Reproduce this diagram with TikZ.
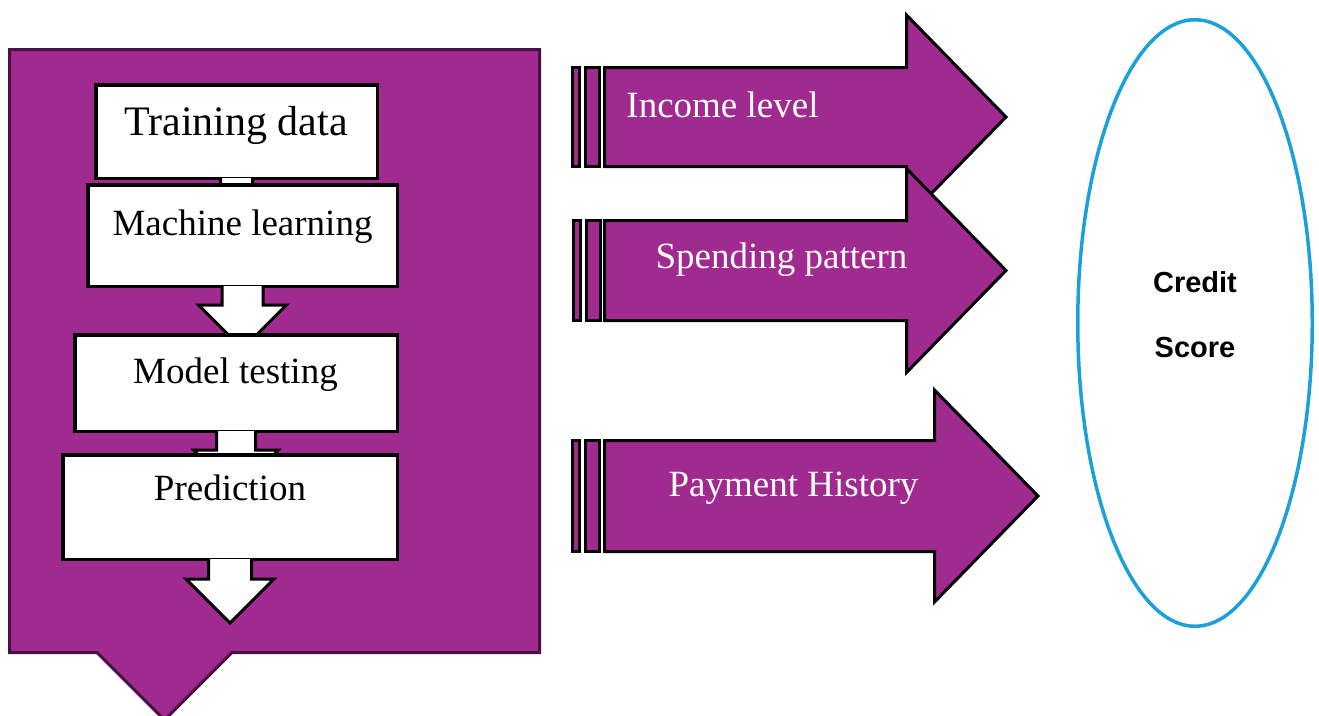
\documentclass[tikz,border=0pt]{standalone}
\usepackage{fontspec}
\setmainfont{Liberation Serif}
\setsansfont{Liberation Sans}
\usepackage{tikz}
\usetikzlibrary{calc,shapes.geometric}
\definecolor{plum}{RGB}{160,42,143}
\definecolor{plumdark}{RGB}{74,16,68}
\definecolor{scoreblue}{RGB}{28,160,218}

\begin{document}
\begin{tikzpicture}[x=1pt,y=-1pt]
\tikzstyle{every node}+=[inner sep=0pt]
\tikzstyle{stage}=[draw=black,fill=white,line width=3.5pt,rectangle]
\tikzstyle{flow}=[draw=black,fill=white,line width=3pt]
\tikzstyle{factor}=[draw=black,fill=plum,line width=3pt]
\tikzstyle{big}=[anchor=base,font=\fontsize{37}{44}\selectfont]
\useasboundingbox (0,0) rectangle (1319,715);
\fill [white] (0,0) rectangle (1319,715);
\draw [plumdark,fill=plum,line width=3pt] (9.5,49.5) -- (539.5,49.5) -- (539.5,652.5) -- (232,652.5) -- (164.5,720) -- (97,652.5) -- (9.5,652.5) -- cycle;
\node [stage,minimum width=281.5pt,minimum height=93.5pt] (train) at (236.5,131.5) {};
\node [anchor=base,font=\fontsize{42}{50}\selectfont] (train-lbl) at (236,135) {Training data};
\draw [flow] ($(train.south)+(-16,-2)$) -- ++(0,19) -- ++(-24,0) -- ++(40,40) -- ++(40,-40) -- ++(-24,0) -- ++(0,-19);
\node [stage,minimum width=309.5pt,minimum height=101.5pt] (learn) at (242.5,235.5) {};
\node [big] (learn-lbl) at (242.5,235) {Machine learning};
\draw [flow] ($(learn.south)+(-20.5,-2)$) -- ++(0,19) -- ++(-23.5,0) -- ++(44,44) -- ++(44,-44) -- ++(-23.5,0) -- ++(0,-19);
\node [stage,minimum width=322.5pt,minimum height=96.5pt] (test) at (236,383) {};
\node [big] (test-lbl) at (235.5,383) {Model testing};
\draw [flow] ($(test.south)+(-19.5,-2)$) -- ++(0,19) -- ++(-23,0) -- ++(42.5,42.5) -- ++(42.5,-42.5) -- ++(-23,0) -- ++(0,-19);
\node [stage,minimum width=334.5pt,minimum height=104.5pt] (predict) at (230,507) {};
\node [big] (predict-lbl) at (230,500) {Prediction};
\draw [flow] ($(predict.south)+(-21.5,-2)$) -- ++(0,20) -- ++(-22.5,0) -- ++(44,44) -- ++(44,-44) -- ++(-22.5,0) -- ++(0,-20);
\draw [factor] (572.5,67.5) rectangle (579.5,166.5);
\draw [factor] (585.5,67.5) rectangle (599.5,166.5);
\draw [factor] (604.5,67.5) -- (906.5,67.5) -- (906.5,15) -- (1006,117) -- (906.5,219) -- (906.5,166.5) -- (604.5,166.5) -- cycle;
\node [big,white] (income) at (722.5,117) {Income level};
\draw [factor] (573.5,220.5) rectangle (580.5,320.5);
\draw [factor] (586.5,220.5) rectangle (600.5,320.5);
\draw [factor] (604.5,220.5) -- (906.5,220.5) -- (906.5,168.5) -- (1006,270.5) -- (906.5,372.5) -- (906.5,320.5) -- (604.5,320.5) -- cycle;
\node [big,white] (spending) at (781.5,268) {Spending pattern};
\draw [factor] (572.5,440.5) rectangle (579.5,551.5);
\draw [factor] (585.5,440.5) rectangle (599.5,551.5);
\draw [factor] (604.5,440.5) -- (934.5,440.5) -- (934.5,390) -- (1038,496) -- (934.5,602) -- (934.5,551.5) -- (604.5,551.5) -- cycle;
\node [big,white] (payment) at (793.5,496) {Payment History};
\node [ellipse,draw=scoreblue,line width=3.5pt,minimum width=234.5pt,minimum height=606.5pt] (score) at (1195,323) {};
\node [align=center,font=\sffamily\bfseries\fontsize{29}{65}\selectfont] (score-lbl) at (1195,314.5) {Credit\\Score};
\end{tikzpicture}
\end{document}
